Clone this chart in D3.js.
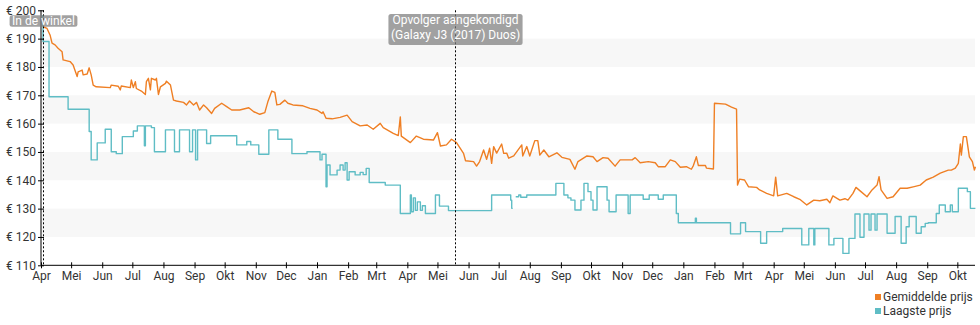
<!DOCTYPE html>
<html><head><meta charset="utf-8">
<script src="https://cdn.jsdelivr.net/npm/d3@7"></script>
<style>
html,body{margin:0;padding:0;background:#fff;}
svg{display:block;font-family:Roboto,"Noto Sans",sans-serif;}
</style></head>
<body><svg id="c" width="980" height="325"></svg>
<script>
// ---- data (day offsets counted from 2016-04-01) ----
const startDate = "2016-04-01";
const endDay = 930.6;
const monthLabels = ["Jan","Feb","Mrt","Apr","Mei","Jun","Jul","Aug","Sep","Okt","Nov","Dec"];
const yTicks = [110,120,130,140,150,160,170,180,190,200];
const seriesNames = ["Gemiddelde prijs","Laagste prijs"];
const seriesColors = ["#ef7f24","#5fbdc5"];

const avgDays = [2,6,9,11,14,17,21,22,29,32,36,37,41,42,46,48,50,52,55,69,70,77,79,80,89,90,92,94,95,100,104,105,107,109,110,114,115,117,119,124,125,129,132,135,142,145,148,152,155,158,162,165,170,173,180,185,190,198,207,212,218,223,226,230,233,235,238,243,246,251,261,268,275,280,281,284,290,298,305,310,318,325,331,338,341,351,356,358,359,368,374,381,391,395,398,404,409,414,421,423,431,434,437,441,444,447,449,451,454,459,461,464,466,471,479,480,484,487,492,495,497,501,506,514,519,527,532,535,544,550,554,560,565,572,577,589,592,597,605,612,615,622,627,632,637,643,648,650,653,655,662,663,670,671,682,688,693,694,696,701,705,713,716,723,730,732,734,743,750,756,763,770,776,783,786,789,796,801,804,809,812,817,823,828,833,835,837,843,849,856,863,869,876,882,889,896,904,907,911,914,916,917,919,922,925,928,930,931];
const avgPrices = [194.2,193.6,191.3,188.4,187.8,186.6,185.4,182.5,181.9,180.7,176.6,178.3,178.9,177.2,177.5,179.7,177.2,173.6,173.0,172.7,173.6,173.2,171.9,173.3,172.7,175.4,172.7,174.8,172.4,171.5,170.3,174.8,176.0,171.9,176.0,175.4,176.0,170.3,173.0,174.2,175.0,173.6,168.3,168.0,167.5,166.6,168.0,166.6,167.5,164.8,166.6,165.6,163.6,165.4,167.2,166.0,164.8,164.8,165.6,164.2,163.3,163.9,167.7,171.5,171.0,166.6,166.8,168.3,167.2,166.6,166.3,165.4,164.8,163.6,164.2,161.9,161.7,162.2,163.0,160.7,159.2,159.5,158.0,160.1,158.6,156.6,155.8,162.4,155.6,153.3,155.6,154.5,154.2,156.8,152.1,152.5,154.5,153.3,149.5,146.9,146.6,145.0,146.6,150.7,147.4,151.3,146.0,151.9,149.6,152.8,149.5,149.6,147.8,148.6,152.5,148.6,151.9,148.6,154.0,154.0,148.9,150.7,148.3,149.7,148.1,147.4,143.9,146.6,148.6,148.3,146.6,148.0,147.8,145.0,147.2,147.2,148.0,146.2,146.6,146.2,144.8,144.8,147.2,146.6,144.6,144.8,143.9,145.2,148.3,145.2,145.2,144.3,144.0,167.2,166.9,165.8,165.1,138.3,140.4,140.1,137.7,137.5,136.6,135.4,134.5,141.1,134.5,135.4,134.2,133.3,131.3,133.0,132.8,133.3,132.1,134.5,133.0,133.5,133.0,135.4,137.5,136.0,134.2,136.6,138.3,141.3,136.6,133.6,134.2,137.2,137.2,137.7,138.3,140.1,141.1,142.5,143.6,143.6,144.3,146.0,152.8,148.9,155.4,155.4,148.3,146.6,143.6,144.8];

const lowDays = [1,2,8,27,48,50,56,64,70,75,81,92,96,103,104,110,113,124,133,138,148,151,154,156,165,169,195,205,209,217,227,236,250,265,278,280,284,285,288,295,298,301,303,305,307,313,318,321,324,327,343,358,368,369,371,373,375,378,380,383,393,397,406,449,468,469,470,471,473,476,478,484,513,521,525,528,532,538,541,545,548,550,554,564,566,573,585,587,600,606,615,620,633,635,652,653,687,697,702,717,723,739,758,765,770,771,785,790,799,805,811,816,820,825,827,831,833,843,851,857,862,865,872,877,881,884,892,895,901,906,908,914,923,926,931];
const lowPrices = [198,189,169.5,165.1,157.2,147.2,153.2,158,150.1,149.4,155.4,157.4,159.2,152.2,159.2,158.6,150.1,157.8,150.1,157.8,150.1,157.8,147.2,157.8,153,155.7,152.5,153.7,152.5,149.2,157.8,154.5,149.4,150.1,147.2,149.2,137.7,145.4,141.9,143.6,145.4,143.6,146.2,140.1,143,141.9,142.8,142,144.2,139.2,138.3,128.3,134.8,128.9,133.8,129.4,132.4,129.4,131,128.3,134.8,130.9,129.3,134.8,133,130.1,130.1,null,134.2,134.8,134,134.8,138.9,134.8,133.8,133,129.5,133,138.9,136,133,129.5,137.7,133,128.9,134.8,128.3,134.8,133.3,134.8,133.3,134.8,128.3,125,126.6,125,121.1,125,121.9,117.8,121.9,123,117.2,123,117.2,123,117.2,119.5,114.2,119.5,128.1,119.9,128.1,122.4,128.1,122.4,128.1,121.3,127.2,117.8,123.6,127.2,121.3,123.6,124.8,125,128.3,131.3,128.9,131.3,128.9,137.2,136,130.1,130.1];

const eventDays = [1.7, 412.5];
const eventLabels = [["In de winkel"], ["Opvolger aangekondigd","(Galaxy J3 (2017) Duos)"]];

// ---- drawing ----
const t0 = Date.parse(startDate + "T00:00:00Z");
const toDate = d => new Date(t0 + d * 864e5);
const svg = d3.select("#c");
const L = 41, R = 975, T = 10.3, B = 265.3;
const x = d3.scaleUtc().domain([toDate(0), toDate(endDay)]).range([L, R]);
const y = d3.scaleLinear().domain([110, 200]).range([B, T]);
const txt = "#333";

// alternating bands
const bands = [[180,190],[160,170],[140,150],[120,130]];
svg.append("g").selectAll("rect").data(bands).join("rect")
  .attr("x", L).attr("width", R - L)
  .attr("y", d => y(d[1])).attr("height", d => y(d[0]) - y(d[1]))
  .attr("fill", "#f7f7f7");

// lines
const avg = avgDays.map((d,i) => ({date: toDate(d), v: avgPrices[i]}));
const low = lowDays.map((d,i) => ({date: toDate(d), v: lowPrices[i]}));
const lineAvg = d3.line().x(d => x(d.date)).y(d => y(d.v)).curve(d3.curveLinear);
const lineLow = d3.line().defined(d => d.v != null).x(d => x(d.date)).y(d => y(d.v)).curve(d3.curveStepAfter);
svg.append("path").datum(low).attr("d", lineLow).attr("fill","none")
  .attr("stroke", seriesColors[1]).attr("stroke-width", 1.4).attr("stroke-linejoin","round");
svg.append("path").datum(avg).attr("d", lineAvg).attr("fill","none")
  .attr("stroke", seriesColors[0]).attr("stroke-width", 1.4).attr("stroke-linejoin","round");

// axes
const yAxis = d3.axisLeft(y).tickValues(yTicks).tickSize(0).tickPadding(5).tickFormat(d => "€ " + d);
const gy = svg.append("g").attr("transform", `translate(${L},0)`).call(yAxis);
gy.select(".domain").remove();
gy.selectAll("text").attr("fill", txt).attr("font-size", 12).attr("font-family","Roboto");
gy.selectAll(".tick").append("line").attr("x1", -3).attr("x2", 3).attr("stroke", "#000");
svg.append("line").attr("x1", L).attr("x2", L).attr("y1", T).attr("y2", B).attr("stroke","#000");

const xAxis = d3.axisBottom(x).ticks(d3.utcMonth.every(1)).tickSize(0).tickPadding(6)
  .tickFormat(d => monthLabels[d.getUTCMonth()]);
const gx = svg.append("g").attr("transform", `translate(0,${B})`).call(xAxis);
gx.select(".domain").remove();
gx.selectAll("text").attr("fill", txt).attr("font-size", 12).attr("font-family","Roboto");
gx.selectAll(".tick").append("line").attr("y1", -3).attr("y2", 3).attr("stroke", "#000");
svg.append("line").attr("x1", L).attr("x2", R).attr("y1", B).attr("y2", B).attr("stroke","#000");

// events
eventDays.forEach((d, i) => {
  const ex = Math.round(x(toDate(d))) + 0.5;
  svg.append("line").attr("x1", ex).attr("x2", ex).attr("y1", T).attr("y2", B)
    .attr("stroke", "#000").attr("stroke-width", 1).attr("stroke-dasharray", "2,2");
  const g = svg.append("g");
  const lines = eventLabels[i];
  const single = lines.length === 1;
  const top = single ? 15.3 : 14;
  const rect = g.append("rect");
  const texts = g.selectAll("text").data(lines).join("text")
    .attr("x", ex).attr("y", (t, j) => top + 10 + j * 14.5)
    .attr("text-anchor", "middle").attr("fill", "#fff")
    .attr("font-size", 12).attr("font-family","Roboto").text(t => t);
  let w = 0; texts.each(function(){ w = Math.max(w, this.getComputedTextLength()); });
  const h = single ? 11.5 : 31;
  rect.attr("x", ex - w/2 - 2.5).attr("y", top).attr("width", w + 5).attr("height", h)
    .attr("rx", 2.5).attr("fill", "rgba(125,125,125,0.72)");
});

// legend
const lg = svg.append("g");
seriesNames.forEach((n, i) => {
  const ly = 297 + i * 14;
  lg.append("rect").attr("x", 875).attr("y", ly - 3).attr("width", 6).attr("height", 6).attr("fill", seriesColors[i]);
  lg.append("text").attr("x", 883).attr("y", ly + 4.3).attr("fill", txt)
    .attr("font-size", 12).attr("font-family","Roboto").text(n);
});
</script></body></html>
